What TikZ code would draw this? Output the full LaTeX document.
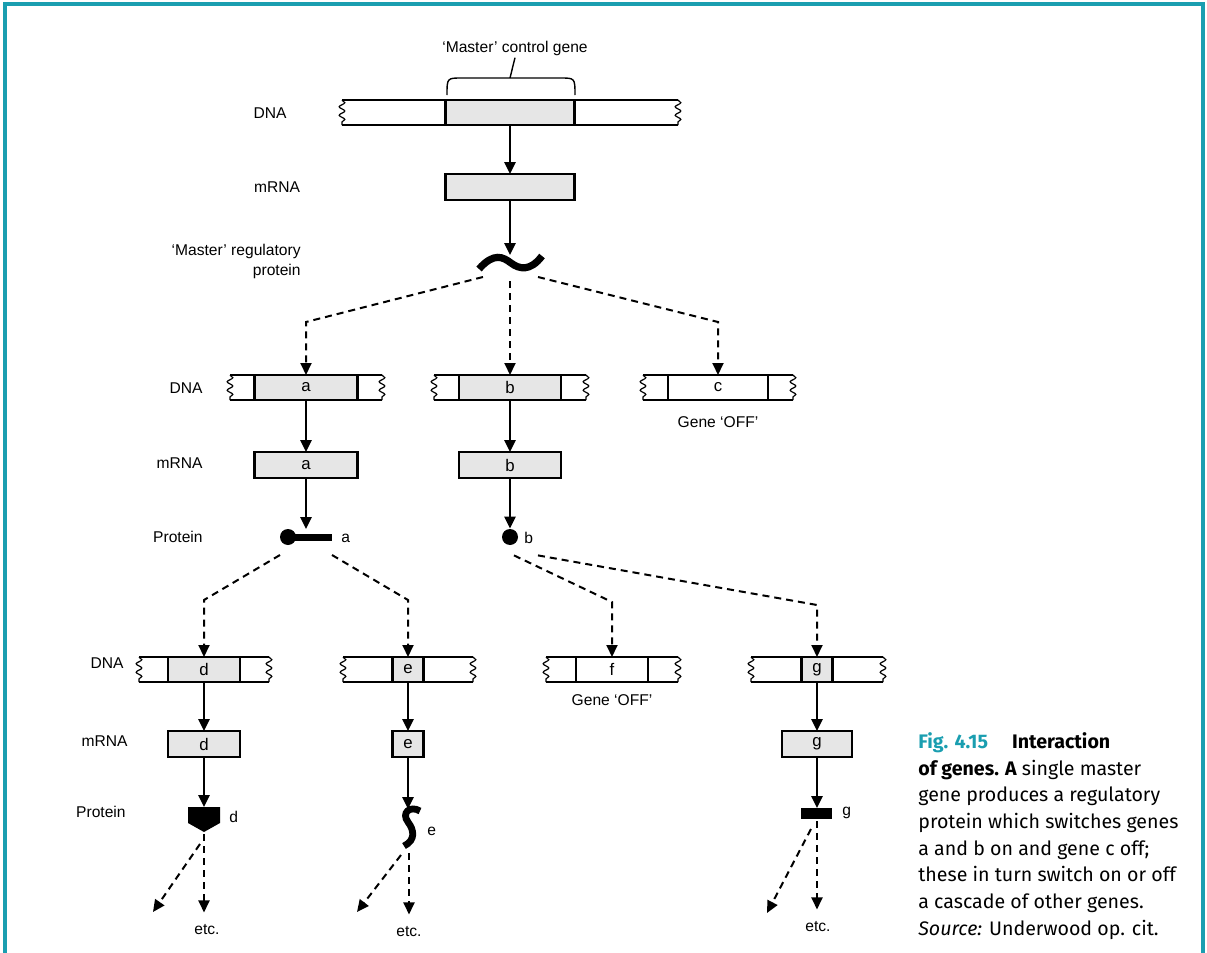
\documentclass[tikz,border=0pt]{standalone}
\usepackage{fontspec}
\setmainfont{Liberation Sans}
\newfontfamily\capfont{Fira Sans}
\usetikzlibrary{arrows.meta, positioning, decorations.pathmorphing}
\definecolor{gnTeal}{HTML}{1A9EB0}
\definecolor{gnGene}{HTML}{E6E6E6}
\tikzset{
  lbl/.style={font=\fontsize{7.8}{10}\selectfont, inner sep=1pt},
  gene/.style={draw, line width=1.2pt, outer sep=0pt, minimum height=12.5pt,
    inner sep=0pt, font=\fontsize{8.4}{9}\selectfont},
  mrna/.style={gene, fill=gnGene, minimum height=13pt},
  strand/.style={line width=1.2pt},
  ragged/.style={line width=0.6pt, decorate,
    decoration={snake, segment length=4.2pt, amplitude=1.4pt}},
  flow/.style={-{Triangle[length=6pt,width=5.5pt]}, line width=1.3pt},
  dflow/.style={flow, line width=1pt, dash pattern=on 3.5pt off 2.5pt},
  ball/.style={circle, fill, inner sep=0pt, minimum size=8pt},
  holder/.style={inner sep=0pt, outer sep=0pt}
}
% strip of DNA with a gene in it: name, x, top y, half strip width, gene width (pt), fill, text
\newcommand{\dnastrip}[7]{%
  \node[gene, fill=#6, minimum width=#5pt, anchor=north] (#1) at (#2,#3) {#7};
  \draw[strand] (#2-#4,#3) -- (#2+#4,#3) (#2-#4,#3+25) -- (#2+#4,#3+25);
  \draw[ragged] (#2-#4,#3) -- (#2-#4,#3+25);
  \draw[ragged] (#2+#4,#3) -- (#2+#4,#3+25);
}

\begin{document}
\begin{tikzpicture}[x=0.5pt, y=-0.5pt]
  \useasboundingbox (0,0) rectangle (1207,953);
  \draw[gnTeal, line width=1.6pt] (5,953) -- (5,4) -- (1203,4) -- (1203,953);

  % master gene
  \node[lbl] (mtitle) at (515,48) {‘Master’ control gene};
  \draw[line width=0.7pt] (447,95) .. controls (447,78) .. (462,78) -- (560,78)
    .. controls (575,78) .. (575,95);
  \draw[line width=0.7pt] (510,78) -- (mtitle.south);
  \dnastrip{dnaM}{510}{100}{168}{64.5}{gnGene}{}
  \node[lbl] (lDNA1) at (270,113) {DNA};
  \node[mrna, minimum width=64.5pt] (mM) at (510,187) {};
  \node[lbl] (lmRNA1) at (277,187) {mRNA};
  \draw[flow] (dnaM.south) -- (mM.north);
  \node[holder, minimum width=32pt, minimum height=8pt] (mprot) at (510,263) {};
  \draw[line width=3.6pt] (479,269) .. controls (494,252) and (503,257) .. (511,263)
    .. controls (519,269) and (530,272) .. (542,256);
  \node[lbl, align=right, anchor=east] (lprot1) at (303,261) {‘Master’ regulatory\\protein};
  \draw[flow] (mM.south) -- (mprot.north);

  % genes a, b, c
  \dnastrip{dnaA}{306}{375}{76}{51.5}{gnGene}{a}
  \dnastrip{dnaB}{510}{375}{76}{51}{gnGene}{b}
  \dnastrip{dnaC}{718}{375}{75}{50}{white}{c}
  \node[lbl] (offC) at (718,422) {Gene ‘OFF’};
  \node[lbl, anchor=east] (lDNA2) at (205,388) {DNA};
  \coordinate (kA) at (306,322);
  \coordinate (kC) at (718,322);
  \draw[dflow] ([xshift=-13.5pt,yshift=-3pt]mprot.south) -- (kA) -- (dnaA.north);
  \draw[dflow] ([yshift=-5pt]mprot.south) -- (dnaB.north);
  \draw[dflow] ([xshift=14pt,yshift=-3pt]mprot.south) -- (kC) -- (dnaC.north);

  \node[mrna, minimum width=51.5pt] (mA) at (306,465) {a};
  \node[mrna, minimum width=51pt] (mB) at (510,465) {b};
  \node[lbl, anchor=east] (lmRNA2) at (205,463) {mRNA};
  \draw[flow] (dnaA.south) -- (mA.north);
  \draw[flow] (dnaB.south) -- (mB.north);

  % proteins a and b
  \node[holder, minimum width=26pt, minimum height=8pt] (protA) at (306,537) {};
  \node[ball] (ballA) at (288,537) {};
  \fill (288,533.5) rectangle (332,540.5);
  \node[lbl, anchor=west] (tA) at (339,538) {a};
  \node[ball] (protB) at (510,537) {};
  \node[lbl, anchor=west] (tB) at (522,538) {b};
  \node[lbl, anchor=east] (lprot2) at (205,537) {Protein};
  \draw[flow] (mA.south) -- (mA.south |- protA.north);
  \draw[flow] (mB.south) -- (protB.north);

  % genes d, e, f, g
  \coordinate (kD) at (204,600);
  \coordinate (kE) at (408,600);
  \coordinate (kF) at (612,602);
  \coordinate (kG) at (817,605);
  \dnastrip{dnaD}{204}{657}{65}{36}{gnGene}{d}
  \dnastrip{dnaE}{408}{657}{65}{15.5}{gnGene}{e}
  \dnastrip{dnaF}{612}{657}{66}{36}{white}{f}
  \dnastrip{dnaG}{817}{657}{66}{15.5}{gnGene}{g}
  \node[lbl] (offF) at (612,700) {Gene ‘OFF’};
  \node[lbl, anchor=east] (lDNA3) at (126,663) {DNA};
  \draw[dflow] ([yshift=-5pt]protA.south west) -- (kD) -- (dnaD.north);
  \draw[dflow] ([yshift=-5pt]protA.south east) -- (kE) -- (dnaE.north);
  \draw[dflow] ([xshift=2pt,yshift=-5pt]protB.south) -- (kF) -- (dnaF.north);
  \draw[dflow] ([xshift=14pt,yshift=-5pt]protB.south) -- (kG) -- (dnaG.north);

  \node[mrna, minimum width=36pt] (mD) at (204,744) {d};
  \node[mrna, minimum width=15.5pt] (mE) at (408,744) {e};
  \node[mrna, minimum width=35pt] (mG) at (817,744) {g};
  \node[lbl, anchor=east] (lmRNA3) at (130,741) {mRNA};
  \draw[flow] (dnaD.south) -- (mD.north);
  \draw[flow] (dnaE.south) -- (mE.north);
  \draw[flow] (dnaG.south) -- (mG.north);

  % proteins d, e, g
  \node[holder, minimum width=16pt, minimum height=12.5pt] (protD) at (204,819.5) {};
  \fill (188,807) -- (220,807) -- (220,823) -- (204,832) -- (188,823) -- cycle;
  \node[lbl, anchor=west] (tD) at (227,817) {d};
  \node[holder, minimum width=8pt, minimum height=19pt] (protE) at (411,828) {};
  \draw[line width=3.4pt] (420,811) .. controls (410,805) and (401,813) .. (408,822)
    .. controls (414,830) and (416,840) .. (404,846);
  \node[lbl, anchor=west] (tE) at (425,831) {e};
  \node[holder, minimum width=15.5pt, minimum height=5.5pt] (protG) at (817,813.5) {};
  \fill (801,808) rectangle (832,819);
  \node[lbl, anchor=west] (tG) at (840,813) {g};
  \node[lbl, anchor=east] (lprot3) at (128,812) {Protein};
  \draw[flow] (mD.south) -- (protD.north);
  \draw[flow] (mE.south) -- (mE.south |- protE.north);
  \draw[flow] (mG.south) -- (protG.north);

  % cascade
  \node[lbl] (etcD) at (207,930) {etc.};
  \node[lbl] (etcE) at (409,932) {etc.};
  \node[lbl] (etcG) at (818,927) {etc.};
  \coordinate (endD) at (153,912);
  \coordinate (endE) at (357,912);
  \coordinate (endG) at (767,913);
  \draw[dflow] ([yshift=-1pt]protD.south) -- ([yshift=5pt]protD.south |- etcD.north);
  \draw[dflow] ([xshift=-2pt,yshift=-6pt]protD.south) -- (endD);
  \draw[dflow] ([xshift=-1pt,yshift=-3pt]protE.south) -- ([xshift=-1pt,yshift=5pt]protE.south |- etcE.north);
  \draw[dflow] ([xshift=-5pt,yshift=-4pt]protE.south) -- (endE);
  \draw[dflow] ([yshift=-1pt]protG.south) -- ([yshift=5pt]protG.south |- etcG.north);
  \draw[dflow] ([xshift=-3pt,yshift=-5pt]protG.south) -- (endG);

  % caption
  \node[anchor=north west, inner sep=0pt, align=left,
    font=\capfont\fontsize{9.8}{13.35}\selectfont] (cap) at (918,732)
    {\textcolor{gnTeal}{\bfseries Fig. 4.15}\hspace{12pt}{\bfseries Interaction}\\
     {\bfseries of genes. A} single master\\
     gene produces a regulatory\\
     protein which switches genes\\
     a and b on and gene c off;\\
     these in turn switch on or off\\
     a cascade of other genes.\\
     \textit{Source:} Underwood op. cit.};
\end{tikzpicture}
\end{document}
